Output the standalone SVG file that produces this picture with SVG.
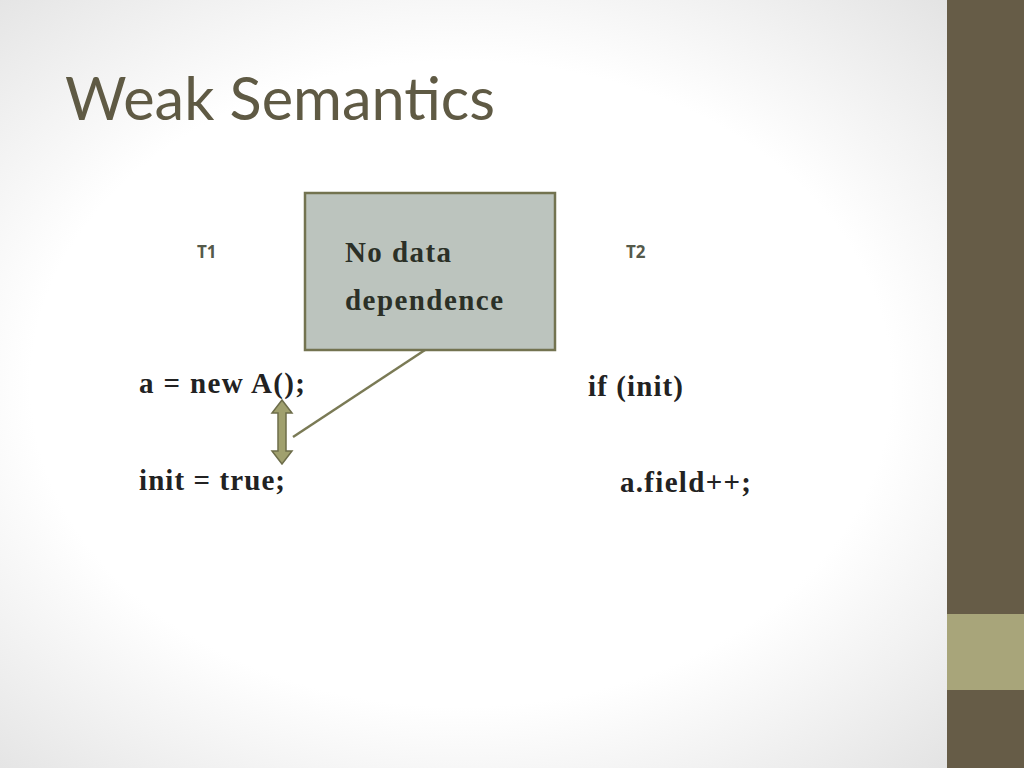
<svg xmlns="http://www.w3.org/2000/svg" width="1024" height="768" viewBox="0 0 1024 768">
<defs>
<radialGradient id="bg" cx="0.45" cy="0.5" r="0.7">
<stop offset="0.6" stop-color="#ffffff"/><stop offset="1" stop-color="#e2e2e2"/>
</radialGradient>
<style>
.code{font-family:"Liberation Serif",serif;font-weight:bold;font-size:29px;fill:#222}
.t{font-family:"Open Sans","Liberation Sans",sans-serif;font-weight:bold;font-size:17px;fill:#555a4a}
.box{font-family:"Liberation Serif",serif;font-weight:bold;font-size:29px;fill:#2b3027}
</style>
</defs>
<rect width="1024" height="768" fill="url(#bg)"/>
<rect x="947" y="0" width="77" height="768" fill="#665c47"/>
<rect x="947" y="614" width="77" height="76" fill="#a8a57a"/>
<text x="65" y="120" font-family="Lato,'Liberation Sans',sans-serif" font-size="60" fill="#5f5a44" textLength="430" lengthAdjust="spacingAndGlyphs">Weak Semantics</text>
<g id="t1"><text class="t" x="197" y="258">T1</text></g>
<g id="t2"><text class="t" x="626" y="258">T2</text></g>
<g id="code1"><text class="code" x="139" y="393" textLength="166">a = new A();</text><text class="code" x="139" y="490" textLength="146">init = true;</text></g>
<g id="code2"><text class="code" x="588" y="396" textLength="95">if (init)</text><text class="code" x="620" y="492" textLength="131">a.field++;</text></g>
<g id="connectors">
<line x1="425" y1="350" x2="293" y2="437" stroke="#7a7a55" stroke-width="2.5"/>
<polygon points="282,400 292,413 286,413 286,451 292,451 282,464 272,451 278,451 278,413 272,413" fill="#a0a06e" stroke="#6d6d4a" stroke-width="1.5"/>
</g>
<g id="callout">
<rect x="305" y="193" width="250" height="157" fill="#bcc4be" stroke="#737350" stroke-width="2.5"/>
<text class="box" x="345" y="262" textLength="106">No data</text>
<text class="box" x="345" y="310" textLength="158">dependence</text>
</g>
</svg>
